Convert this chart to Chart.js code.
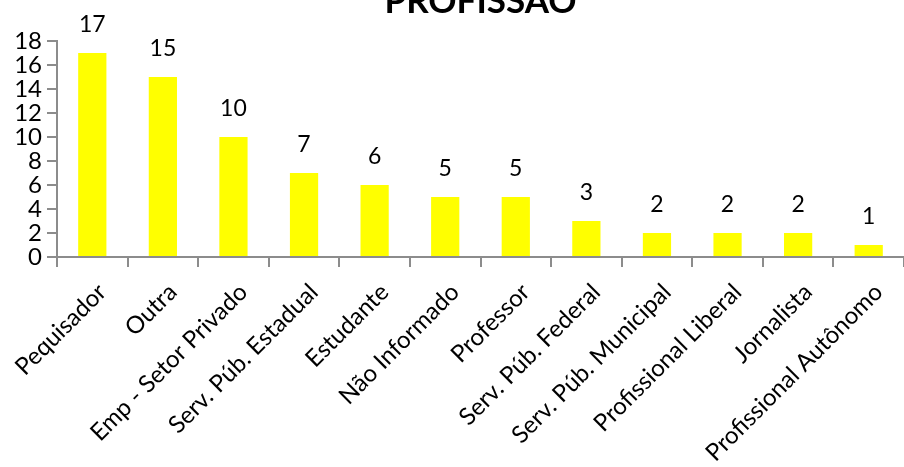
<!DOCTYPE html>
<html>
<head>
<meta charset="utf-8">
<script src="https://cdn.jsdelivr.net/npm/chart.js@4/dist/chart.umd.min.js"></script>
<style>
  html, body { margin: 0; padding: 0; background: #fff; }
  #box { width: 904px; height: 467px; position: relative; }
</style>
</head>
<body>
<div id="box"><canvas id="grafico"></canvas></div>
<script>
const titulo = "PROFISSÃO";
const categorias = [
  "Pequisador", "Outra", "Emp - Setor Privado", "Serv. Púb. Estadual",
  "Estudante", "Não Informado", "Professor", "Serv. Púb. Federal",
  "Serv. Púb. Municipal", "Profissional Liberal", "Jornalista", "Profissional Autônomo"
];
const valores = [17, 15, 10, 7, 6, 5, 5, 3, 2, 2, 2, 1];
const eixoY = [0, 2, 4, 6, 8, 10, 12, 14, 16, 18];

const fonte = "Lato, 'Open Sans', sans-serif";

// rotulos em cima das barras + titulo centrado na area do grafico
const rotulos = {
  id: "rotulos",
  afterDatasetsDraw(chart) {
    const ctx = chart.ctx;
    const meta = chart.getDatasetMeta(0);
    ctx.save();
    ctx.fillStyle = "#000";
    ctx.font = "23px " + fonte;
    ctx.textAlign = "center";
    ctx.textBaseline = "alphabetic";
    meta.data.forEach((bar, i) => {
      ctx.fillText(String(valores[i]), bar.x, bar.y - 21);
    });
    const area = chart.chartArea;
    ctx.font = "bold 35px " + fonte;
    ctx.fillText(titulo, (area.left + area.right) / 2, 13);
    ctx.restore();
  }
};

new Chart(document.getElementById("grafico"), {
  type: "bar",
  data: {
    labels: categorias,
    datasets: [{
      data: valores,
      backgroundColor: "#ffff00",
      borderWidth: 0,
      barPercentage: 0.4,
      categoryPercentage: 1
    }]
  },
  options: {
    responsive: true,
    maintainAspectRatio: false,
    animation: false,
    layout: { padding: { top: 41, right: -4, left: 0, bottom: 0 } },
    plugins: { legend: { display: false }, tooltip: { enabled: false } },
    scales: {
      x: {
        afterFit: (s) => { s.height = 210; s.paddingLeft = 0; s.paddingRight = 0; },
        border: { color: "#8c8c8c", width: 2 },
        grid: { drawOnChartArea: false, offset: true, color: "#8c8c8c", lineWidth: 2, tickLength: 10 },
        ticks: {
          color: "#000",
          font: { family: fonte, size: 24 },
          maxRotation: 45,
          minRotation: 45,
          autoSkip: false,
          labelOffset: 10,
          padding: 11
        }
      },
      y: {
        min: 0,
        max: 18,
        afterFit: (s) => { s.width = 57; s.paddingTop = 0; s.paddingBottom = 0; },
        afterBuildTicks: (s) => { s.ticks = eixoY.map((v) => ({ value: v })); },
        border: { color: "#8c8c8c", width: 2 },
        grid: { drawOnChartArea: false, color: "#8c8c8c", lineWidth: 2, tickLength: 10 },
        ticks: {
          color: "#000",
          font: { family: fonte, size: 24 },
          autoSkip: false,
          padding: 5
        }
      }
    }
  },
  plugins: [rotulos]
});
</script>
</body>
</html>
